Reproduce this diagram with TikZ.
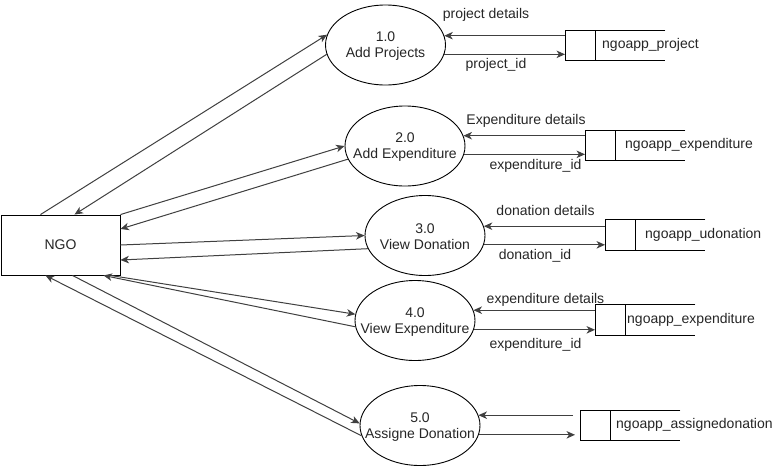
\documentclass[tikz,border=0pt]{standalone}
\usepackage{fontspec}
\setmainfont{Liberation Sans}
\usetikzlibrary{arrows.meta,shapes.geometric}
\begin{document}
\begin{tikzpicture}[x=1pt,y=-1pt,
  txt/.style={font=\fontsize{14}{16}\selectfont,text=black!85,inner sep=0pt},
  ptxt/.style={txt,align=center,yshift=-1.5pt},
  proc/.style={draw=black,ellipse,minimum width=120pt,minimum height=80pt,inner sep=0pt,line width=0.9pt},
  ent/.style={txt,draw=black,rectangle,minimum width=119pt,minimum height=60pt,line width=0.9pt},
  storebox/.style={inner sep=0pt,minimum width=100pt},
  storeline/.style={draw=black,line width=0.9pt},
  flow/.style={draw=black!75,line width=1pt,-{Stealth[length=8.5pt,width=7.5pt,inset=2.5pt]}}
]
\useasboundingbox (0,0) rectangle (774,466);
\fill[white] (0,0) rectangle (774,466);

% external entity
\node[ent] (ngo) at (60.5,245) {NGO};

% processes
\node[proc] (p1) at (385.5,45) {};
\node[proc] (p2) at (405,146) {};
\node[proc] (p3) at (425,235.5) {};
\node[proc] (p4) at (415,320.5) {};
\node[proc] (p5) at (420,425.5) {};
\node[ptxt] (p1t) at (p1) {1.0\\Add Projects};
\node[ptxt] (p2t) at (p2) {2.0\\Add Expenditure};
\node[ptxt] (p3t) at (p3) {3.0\\View Donation};
\node[ptxt] (p4t) at (p4) {4.0\\View Expenditure};
\node[ptxt] (p5t) at (p5) {5.0\\Assigne Donation};

% data stores
\node[storebox,minimum height=29pt,anchor=west] (s1) at (565,45.5) {};
\node[storebox,minimum height=29pt,anchor=west] (s2) at (585,145.5) {};
\node[storebox,minimum height=30pt,anchor=west] (s3) at (605,235) {};
\node[storebox,minimum height=30pt,anchor=west] (s4) at (595,320) {};
\node[storebox,minimum height=29pt,anchor=west] (s5) at (580,425.5) {};
\foreach \s in {s1,s2,s3,s4,s5}{
  \draw[storeline] (\s.north east) -- (\s.north west) -- (\s.south west) -- (\s.south east);
  \draw[storeline] ([xshift=30pt]\s.north west) -- ([xshift=30pt]\s.south west);
}
\node[txt,anchor=west] (t1) at (602,45) {ngoapp\_project};
\node[txt,anchor=west] (t2) at (625,145) {ngoapp\_expenditure};
\node[txt,anchor=west] (t3) at (645,235) {ngoapp\_udonation};
\node[txt,anchor=west] (t4) at (627,320) {ngoapp\_expenditure};
\node[txt,anchor=west] (t5) at (616,425) {ngoapp\_assignedonation};

% NGO <-> processes
\draw[flow] ([xshift=-20pt]ngo.north) -- (p1.170);
\draw[flow] (p1.189) -- ([xshift=14pt]ngo.north);
\draw[flow] (ngo.north east) -- (p2.180);
\draw[flow] (p2.193) -- ([yshift=16pt]ngo.east);
\draw[flow] (ngo.east) -- (p3.180);
\draw[flow] (p3.193) -- ([yshift=-15pt]ngo.east);
\draw[flow] ([xshift=50pt]ngo.south) -- (p4.174);
\draw[flow] (p4.186) -- ([xshift=43pt]ngo.south);
\draw[flow] ([xshift=12pt]ngo.south) -- (p5.178);
\draw[flow] (p5.190) -- ([xshift=-15pt]ngo.south);

% processes <-> stores
\draw[flow] (s1.west |- p1.9.8) -- (p1.9.8);
\draw[flow] (p1.-9.8) -- (s1.west |- p1.-9.8);
\draw[flow] (s2.west |- p2.10.8) -- (p2.10.8);
\draw[flow] (p2.-8.75) -- (s2.west |- p2.-8.75);
\draw[flow] (s3.west |- p3.9.8) -- (p3.9.8);
\draw[flow] (p3.-9.8) -- (s3.west |- p3.-9.8);
\draw[flow] (s4.west |- p4.10.8) -- (p4.10.8);
\draw[flow] (p4.-9.3) -- (s4.west |- p4.-9.3);
\coordinate (c5a) at ([xshift=-7pt]s5.west);
\coordinate (c5b) at ([xshift=-5pt]s5.west);
\draw[flow] (c5a |- p5.10.3) -- (p5.10.3);
\draw[flow] (p5.-9.3) -- (c5b |- p5.-9.3);

% flow labels
\node[txt] (lp1) at (486,15) {project details};
\node[txt] (li1) at (496,65) {project\_id};
\node[txt] (lp2) at (526,121) {Expenditure details};
\node[txt] (li2) at (535.5,166) {expenditure\_id};
\node[txt] (lp3) at (545.5,210) {donation details};
\node[txt] (li3) at (535,256) {donation\_id};
\node[txt] (lp4) at (545.5,300) {expenditure details};
\node[txt] (li4) at (535.5,345) {expenditure\_id};
\end{tikzpicture}
\end{document}
